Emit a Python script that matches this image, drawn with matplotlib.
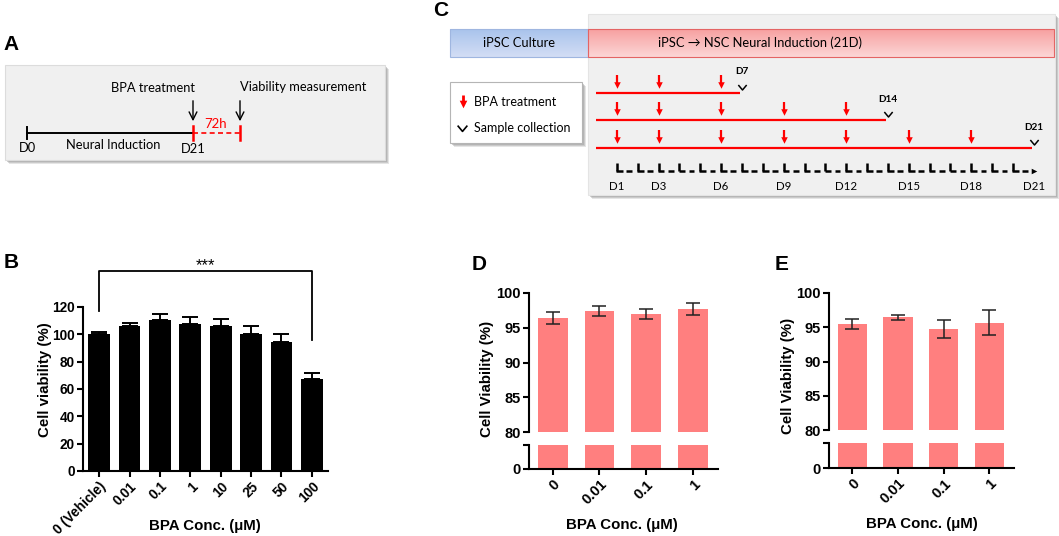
import matplotlib
matplotlib.use('Agg')
import matplotlib.pyplot as plt
import numpy as np
from matplotlib.patches import Rectangle
from matplotlib.path import Path
from matplotlib.colors import to_rgb

W, H = 1059, 536

# ---------------- data ----------------
b_conc = ['0 (Vehicle)', '0.01', '0.1', '1', '10', '25', '50', '100']
b_mean = [100.4, 106.0, 110.3, 107.5, 105.8, 100.2, 94.3, 67.0]
b_err = [1.5, 2.5, 4.3, 5.2, 5.5, 5.8, 6.3, 4.8]

de_conc = ['0', '0.01', '0.1', '1']
d_mean = [96.45, 97.37, 96.98, 97.70]
d_err = [0.85, 0.75, 0.70, 0.80]
e_mean = [95.45, 96.45, 94.75, 95.67]
e_err = [0.75, 0.35, 1.30, 1.85]

treat_days = [1, 3, 6, 9, 12, 15, 18]
collect_days = [7, 14, 21]
label_days = [1, 3, 6, 9, 12, 15, 18, 21]
tick_days = list(range(1, 21))

CHART_FONT = 'Liberation Sans'
SCH_FONT = ['Lato', 'DejaVu Sans']
PINK = '#FF7F7F'

fig = plt.figure(figsize=(W / 100, H / 100), dpi=100)


def px_axes(x0, y0, x1, y1):
    return fig.add_axes([x0 / W, 1 - y1 / H, (x1 - x0) / W, (y1 - y0) / H])


# ---------------- overlay (schematics, panel letters) ----------------
axO = fig.add_axes([0, 0, 1, 1])
axO.set_xlim(0, W)
axO.set_ylim(H, 0)
axO.set_axis_off()


def box(ax, x, y, w, h, fc, ec, shadow=True):
    if shadow:
        for off, a in [(4, 0.25), (3, 0.35), (2, 0.45)]:
            ax.add_patch(Rectangle((x + off, y + off), w, h, fc='#9a9a9a', ec='none', alpha=a))
    ax.add_patch(Rectangle((x, y), w, h, fc=fc, ec=ec, lw=0.8))


def gradient_bar(ax, x, y, w, h, top, bottom, ec):
    t = np.array(to_rgb(top))
    b = np.array(to_rgb(bottom))
    n = 50
    grad = np.array([t + (b - t) * i / (n - 1) for i in range(n)]).reshape(n, 1, 3)
    ax.imshow(grad, extent=(x, x + w, y + h, y), aspect='auto', zorder=2, interpolation='bilinear')
    ax.add_patch(Rectangle((x, y), w, h, fc='none', ec=ec, lw=0.8, zorder=3))


# panel letters
for letter, (lx, ly) in {'A': (11, 44), 'B': (11, 262), 'C': (441, 10), 'D': (479, 264), 'E': (782, 264)}.items():
    axO.text(lx, ly, letter, fontsize=15, fontweight='bold', family=CHART_FONT, ha='center', va='center')

# ---- Panel A ----
box(axO, 5, 65, 380, 95, '#f0f0f0', '#dcdcdc')
axO.plot([27, 193], [133, 133], color='black', lw=1.4, zorder=3)
axO.plot([27, 27], [127, 139], color='black', lw=1.4, zorder=3)
axO.plot([193, 240], [133, 133], color='red', lw=1.2, ls=(0, (3, 2)), zorder=3)
axO.plot([193, 193], [126, 140], color='red', lw=1.8, zorder=4)
axO.plot([240, 240], [126, 140], color='red', lw=1.8, zorder=4)
for ax_x in [193, 240]:
    axO.annotate('', xy=(ax_x, 124), xytext=(ax_x, 98),
                 arrowprops=dict(arrowstyle='->', color='black', lw=1.0, mutation_scale=14), zorder=4)
axO.text(216, 124, '72h', color='red', fontsize=9.5, family=SCH_FONT, ha='center', va='center')
axO.text(153, 88, 'BPA treatment', fontsize=9.3, family=SCH_FONT, ha='center', va='center')
axO.text(240, 87, 'Viability measurement', fontsize=9.3, family=SCH_FONT, ha='left', va='center')
axO.text(28, 148, 'D0', fontsize=9.3, family=SCH_FONT, ha='center', va='center')
axO.text(113, 145, 'Neural Induction', fontsize=9.3, family=SCH_FONT, ha='center', va='center')
axO.text(193, 149, 'D21', fontsize=9.3, family=SCH_FONT, ha='center', va='center')

# ---- Panel C layout boxes ----
box(axO, 588, 14, 467, 181, '#f0f0f0', '#e4e4e4')
gradient_bar(axO, 450, 29, 138, 28, '#a9c3ec', '#d3def5', '#9fb6e0')
gradient_bar(axO, 588, 29, 466, 28, '#f7a0a0', '#fcd6d6', '#e46464')
axO.set_xlim(0, W)
axO.set_ylim(H, 0)
axO.text(519, 43, 'iPSC Culture', fontsize=9.3, family=SCH_FONT, ha='center', va='center', zorder=5)
axO.text(760, 43, 'iPSC \u2192 NSC Neural Induction (21D)', fontsize=9.3, family=SCH_FONT,
         ha='center', va='center', zorder=5)
box(axO, 450, 82, 132, 61, 'white', '#b5b5b5')
axO.vlines([463], 95, 102, color='red', lw=2, zorder=5)
axO.scatter([463], [104], marker='v', s=30, color='red', zorder=5, linewidths=0)
axO.text(474, 102, 'BPA treatment', fontsize=9, family=SCH_FONT, ha='left', va='center', zorder=5)
chev = Path([(-1, 0.6), (0, -0.6), (1, 0.6)], [Path.MOVETO, Path.LINETO, Path.LINETO])
axO.plot([462], [128], marker=chev, markersize=7, mfc='none', mec='black', mew=1.2, ls='none', zorder=5)
axO.text(474, 128, 'Sample collection', fontsize=9, family=SCH_FONT, ha='left', va='center', zorder=5)

# ---- Panel C timeline (x in days) ----
px_per_day = 20.85
day0_px = 596
axC = px_axes(440, 0, 1059, 205)
axC.set_xlim((440 - day0_px) / px_per_day, (1059 - day0_px) / px_per_day)
axC.set_ylim(205, 0)
axC.set_axis_off()
row_y = [93, 120, 148]
for ry, cday in zip(row_y, collect_days):
    axC.hlines(ry, 0, cday - 0.08, color='red', lw=1.6)
    td = [d for d in treat_days if d < cday]
    axC.vlines(td, ry - 18, ry - 9, color='red', lw=1.6)
    axC.scatter(td, [ry - 8] * len(td), marker='v', s=22, color='red', linewidths=0, zorder=3)
    axC.plot([cday], [ry - 6.5], marker=chev, markersize=6, mfc='none', mec='black', mew=1.1, ls='none')
    axC.text(cday, ry - 21, 'D%d' % cday, fontsize=7.2, fontweight='bold', family=SCH_FONT,
             ha='center', va='center')

# L-shaped tick row
tick_y = 171
td = np.array(tick_days, dtype=float)
axC.vlines(td, tick_y - 8, tick_y, color='black', lw=1.8)
axC.hlines([tick_y] * len(td), td - 0.04, td + 0.28, color='black', lw=1.8)
axC.hlines([tick_y] * len(td), td + 0.45, td + 0.72, color='black', lw=1.8)
axC.scatter([21.0], [tick_y], marker='>', s=16, color='black', linewidths=0)
for d in label_days:
    axC.text(d, 187, 'D%d' % d, fontsize=8.3, family=SCH_FONT, ha='center', va='center')


# ---------------- chart styling helper ----------------
def style_axis(ax, fs):
    for s in ['top', 'right']:
        ax.spines[s].set_visible(False)
    for s in ['left', 'bottom']:
        ax.spines[s].set_linewidth(1.5)
    ax.tick_params(axis='both', width=1.5, length=4, labelsize=fs, direction='out', pad=2)
    for lab in ax.get_xticklabels() + ax.get_yticklabels():
        lab.set_fontweight('bold')
        lab.set_family(CHART_FONT)


# ---------------- Panel B ----------------
axB = px_axes(83, 307, 328, 471)
xb = np.arange(len(b_conc))
axB.bar(xb, b_mean, width=0.72, color='black', zorder=2)
axB.errorbar(xb, b_mean, yerr=[np.zeros(len(b_err)), b_err], fmt='none', ecolor='black',
             elinewidth=1.4, capsize=6, capthick=1.4, zorder=1)
axB.set_xlim(-0.53, len(b_conc) - 0.47)
axB.set_ylim(0, 120)
axB.set_yticks(np.arange(0, 121, 20))
axB.set_xticks(xb)
axB.set_xticklabels(b_conc, rotation=45, ha='right', rotation_mode='anchor')
style_axis(axB, 9.8)
axB.plot([0, 0, 7, 7], [117, 146, 146, 96], color='black', lw=1.3, clip_on=False)
axB.text(3.5, 150, '***', fontsize=12, family=CHART_FONT, ha='center', va='center')
fig.text(45 / W, 1 - 380 / H, 'Cell viability (%)', rotation=90, fontsize=10.8, fontweight='bold',
         family=CHART_FONT, ha='center', va='center')
fig.text(205 / W, 1 - 526 / H, 'BPA Conc. (\u03bcM)', fontsize=10.8, fontweight='bold',
         family=CHART_FONT, ha='center', va='center')


# ---------------- Panels D & E (broken axis) ----------------
def broken_panel(x0, x1, ytop, ybreak_top, ybreak_bot, ybot, means, errs, ylab_x, ylab_y, xlab_x, xlab_y):
    x = np.arange(len(de_conc))
    axT = px_axes(x0, ytop, x1, ybreak_top)
    axL = px_axes(x0, ybreak_bot, x1, ybot)
    for ax in (axT, axL):
        ax.bar(x, means, width=0.64, color=PINK, zorder=2)
        ax.set_xlim(-0.51, len(de_conc) - 0.46)
    axT.errorbar(x, means, yerr=errs, fmt='none', ecolor='#222222', elinewidth=1.1,
                 capsize=5, capthick=1.1, zorder=3)
    axT.set_ylim(80, 100)
    axT.set_yticks([80, 85, 90, 95, 100])
    axT.spines['bottom'].set_visible(False)
    axT.set_xticks([])
    style_axis(axT, 10.5)
    axT.tick_params(axis='x', length=0)
    axL.set_ylim(0, 10)
    axL.set_yticks([0, 10])
    axL.set_yticklabels(['0', ''])
    axL.set_xticks(x)
    axL.set_xticklabels(de_conc, rotation=45, ha='right', rotation_mode='anchor')
    style_axis(axL, 10.5)
    fig.text(ylab_x / W, 1 - ylab_y / H, 'Cell Viability (%)', rotation=90, fontsize=10.8,
             fontweight='bold', family=CHART_FONT, ha='center', va='center')
    fig.text(xlab_x / W, 1 - xlab_y / H, 'BPA Conc. (\u03bcM)', fontsize=10.8, fontweight='bold',
             family=CHART_FONT, ha='center', va='center')


broken_panel(529, 718, 293, 432, 445, 469, d_mean, d_err, 487, 379, 622, 525)
broken_panel(829, 1014, 293, 430, 443, 468, e_mean, e_err, 788, 376, 922, 524)

fig.savefig('out.png', dpi=100)
